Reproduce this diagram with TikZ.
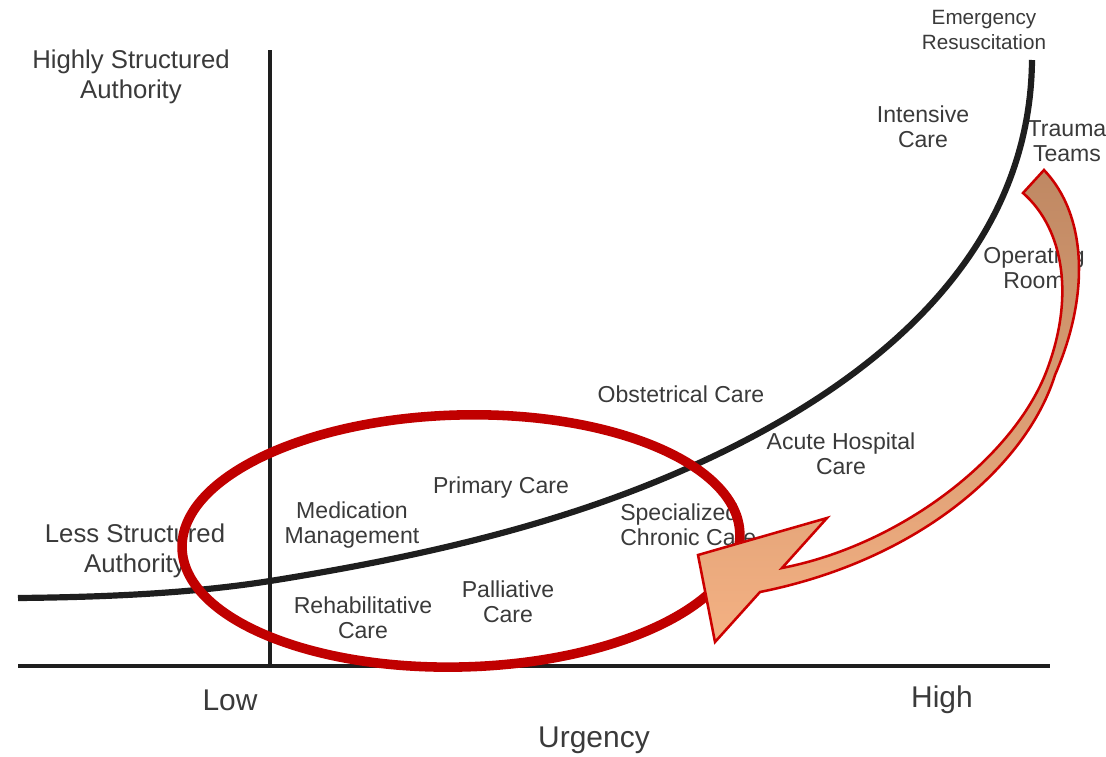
\documentclass[tikz,border=0pt]{standalone}
\usepackage{fontspec}
\setmainfont{Liberation Sans}
\usepackage{xcolor}
\usetikzlibrary{positioning}

\definecolor{inkline}{HTML}{1E1E1E}
\definecolor{labelgray}{HTML}{3A3A3A}
\definecolor{ringred}{HTML}{C00000}
\definecolor{arrowred}{HTML}{CC0000}
\definecolor{arrowtop}{HTML}{BF8863}
\definecolor{arrowbot}{HTML}{F4B183}

\begin{document}
\begin{tikzpicture}[
  x=0.025cm, y=-0.025cm,
  every node/.style={align=center, text=labelgray, inner sep=0pt, font=\fontsize{16.4}{18.1}\selectfont},
  biglabel/.style={font=\fontsize{18.3}{21.3}\selectfont},
  axislabel/.style={font=\fontsize{21.3}{24}\selectfont},
  smalllabel/.style={font=\fontsize{14.7}{17.8}\selectfont},
  axis/.style={draw=inkline, line width=2.4pt},
  trend/.style={draw=inkline, line width=4.4pt},
  ring/.style={draw=ringred, line width=6.8pt},
  bentarrow/.style={draw=arrowred, line width=1.8pt, line join=miter, top color=arrowtop, bottom color=arrowbot}
]

\useasboundingbox (0,0) rectangle (1106,757);

% axes
\coordinate (origin) at (270,666);
\coordinate (ytop) at (270,50);
\coordinate (yfoot) at (270,668);
\coordinate (xleft) at (18,666);
\coordinate (xright) at (1050,666);
\draw[axis] (ytop) -- (yfoot);
\draw[axis] (xleft) -- (xright);

% labels
\node[smalllabel] (resus) at (984,30) {Emergency\\Resuscitation};
\node[biglabel] (highauth) at (131,77) {Highly Structured\\Authority};
\node (icu) at (923,127) {Intensive\\Care};
\node (trauma) at (1067,141) {Trauma\\Teams};
\node (oproom) at (1034,268) {Operating\\Room};
\node (obst) at (681,394) {Obstetrical Care};
\node (acute) at (841,454) {Acute Hospital\\Care};
\node (primary) at (501,488) {Primary Care};
\node (medman) at (352,525) {Medication\\Management};
\node[anchor=west, align=left] (chronic) at (620,525) {Specialized\\Chronic Care};
\node[biglabel] (lowauth) at (135,551) {Less Structured\\Authority};
\node (rehab) at (363,618) {Rehabilitative\\Care};
\node (palli) at (508,602) {Palliative\\Care};
\node[axislabel] (low) at (230,700) {Low};
\node[axislabel] (high) at (942,700) {High};
\node[axislabel] (urgency) at (594,740) {Urgency};

% authority vs urgency curve
\coordinate (crvstart) at (18,598);
\coordinate (crvaxis) at (270,581);
\coordinate (crvmid) at (688,468);
\coordinate (crvend) at (1032,60);
\draw[trend] (crvstart) .. controls (120,597) and (200,592) .. (crvaxis)
  .. controls (420,557) and (560,525) .. (crvmid)
  .. controls (850,396) and (1030,270) .. (crvend);

% low urgency region
\coordinate (ringc) at (461,541);
\draw[ring, rotate around={1.5:(ringc)}] (ringc) ellipse [x radius=279, y radius=126];

% shift arrow
\shadedraw[bentarrow] (1023,193) -- (1044,170)
  .. controls (1087,215) and (1090,295) .. (1055,375)
  .. controls (1027,465) and (920,560) .. (760,592)
  -- (715,642) -- (698,555) -- (827,518) -- (782,568)
  .. controls (900,545) and (1010,460) .. (1045,375)
  .. controls (1075,300) and (1065,230) .. (1023,193)
  -- cycle;

\end{tikzpicture}
\end{document}
